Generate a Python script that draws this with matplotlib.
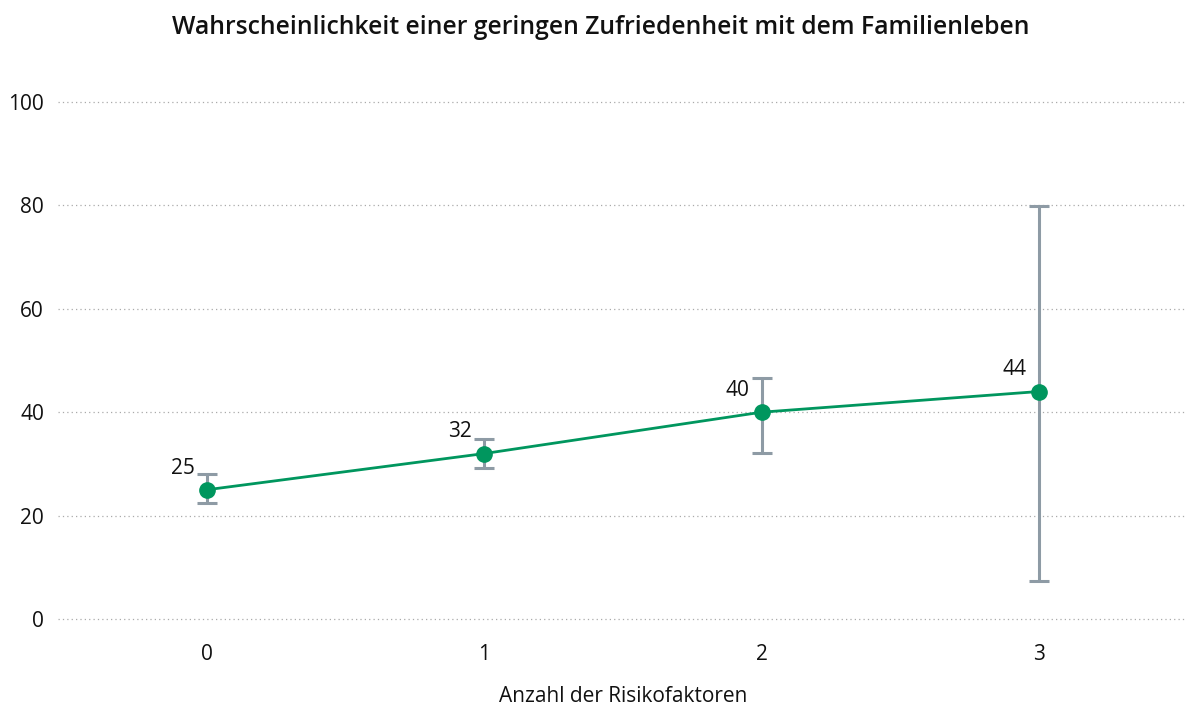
import matplotlib
matplotlib.use("Agg")
import matplotlib.pyplot as plt
import numpy as np

categories = [0, 1, 2, 3]
values = [25, 32, 40, 44]
lower = [22.4, 29.3, 32.2, 7.3]
upper = [28.0, 34.9, 46.6, 79.9]
yticks = [0, 20, 40, 60, 80, 100]

plt.rcParams['font.family'] = ['Open Sans', 'DejaVu Sans']

fig = plt.figure(figsize=(11.87, 7.09), dpi=100)
ax = fig.add_axes([58/1187, (709-619)/709, (1185-58)/1187, (619-102)/709])

green = '#00965E'
gray = '#8E9BA5'
txt = '#111111'

x = np.array(categories)
v = np.array(values)
yerr = np.array([v - np.array(lower), np.array(upper) - v])

ax.errorbar(x, v, yerr=yerr, fmt='none', ecolor=gray, elinewidth=2.2,
            capsize=7, capthick=2.2, zorder=2)
ax.plot(x, v, color=green, lw=2, marker='o', markersize=11, zorder=3)

for xi, vi in zip(x, v):
    ax.annotate(f"{vi}", (xi, vi), xytext=(-9, 8), textcoords='offset points',
                ha='right', va='bottom', fontsize=15, color=txt)

ax.set_xlim(-0.537, 3.527)
ax.set_ylim(0, 100)
ax.set_yticks(yticks)
ax.set_xticks(categories)
ax.set_xticklabels([str(c) for c in categories])
ax.yaxis.grid(True, linestyle=(0, (1, 2.5)), color='#aaaaaa', lw=0.9, clip_on=False)
for gl in ax.get_ygridlines():
    gl.set_clip_on(False)
ax.set_axisbelow(True)
for s in ax.spines.values():
    s.set_visible(False)
ax.tick_params(axis='both', length=0, labelsize=15, colors=txt)
ax.tick_params(axis='y', pad=10)
ax.tick_params(axis='x', pad=18)

fig.text(623/1187, 1 - 696/709, "Anzahl der Risikofaktoren", ha='center', va='center',
         fontsize=15, color=txt)
fig.text(601/1187, 1 - 28/709, "Wahrscheinlichkeit einer geringen Zufriedenheit mit dem Familienleben",
         ha='center', va='center', fontsize=17.8, fontweight='semibold', color=txt)

fig.savefig("out.png", dpi=100)
